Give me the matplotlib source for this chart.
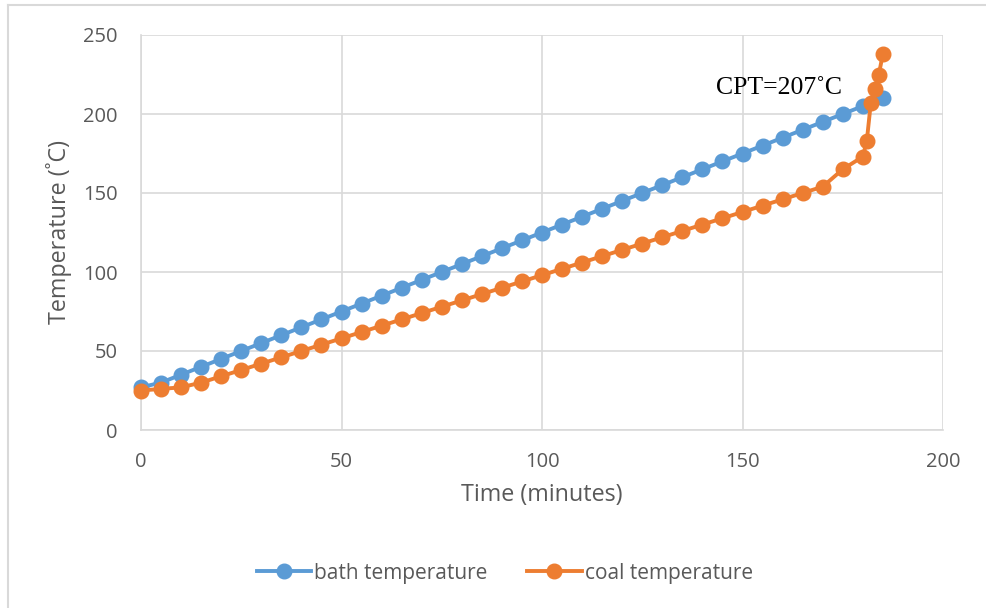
import matplotlib
matplotlib.use("Agg")
import matplotlib.pyplot as plt
from matplotlib.lines import Line2D

# ---- data ----
bath_time = list(range(0, 186, 5))
bath_temp = [27, 30, 35, 40, 45, 50, 55, 60, 65, 70, 75, 80, 85, 90, 95, 100,
             105, 110, 115, 120, 125, 130, 135, 140, 145, 150, 155, 160, 165,
             170, 175, 180, 185, 190, 195, 200, 205, 210]

coal_time = list(range(0, 181, 5)) + [181, 182, 183, 184, 185]
coal_temp = [25, 26, 27, 30, 34, 38, 42, 46, 50, 54, 58, 62, 66, 70, 74, 78,
             82, 86, 90, 94, 98, 102, 106, 110, 114, 118, 122, 126, 130, 134,
             138, 142, 146, 150, 154, 165, 173, 183, 207, 216, 225, 238]

x_ticks = [0, 50, 100, 150, 200]
y_ticks = [0, 50, 100, 150, 200, 250]

BLUE = "#5B9BD5"
ORANGE = "#ED7D31"
GRID = "#D9D9D9"
TXT = "#595959"
FONT = "Open Sans"

fig = plt.figure(figsize=(9.87, 6.08), dpi=100)
fig.patch.set_facecolor("white")

# chart border (top and left visible)
fig.add_artist(Line2D([8/987, 1.0], [1 - 5/608, 1 - 5/608], color=GRID, lw=1.5,
                      transform=fig.transFigure))
fig.add_artist(Line2D([8/987, 8/987], [0.0, 1 - 5/608], color=GRID, lw=1.5,
                      transform=fig.transFigure))

ax = fig.add_axes([141/987, 1 - 430/608, (943 - 141)/987, (430 - 35)/608])

ax.plot(bath_time, bath_temp, color=BLUE, lw=2.8, marker="o", ms=10.5,
        clip_on=False, zorder=3, label="bath temperature")
ax.plot(coal_time, coal_temp, color=ORANGE, lw=2.8, marker="o", ms=10.5,
        clip_on=False, zorder=4, label="coal temperature")

ax.set_xlim(0, 200)
ax.set_ylim(0, 250)
ax.set_xticks(x_ticks)
ax.set_yticks(y_ticks)
ax.grid(True, color=GRID, lw=1.2)
ax.set_axisbelow(True)
for s in ["top", "right"]:
    ax.spines[s].set_visible(False)
for s in ["left", "bottom"]:
    ax.spines[s].set_color(GRID)
    ax.spines[s].set_linewidth(1.2)
ax.tick_params(length=0, labelsize=14.5, labelcolor=TXT)
ax.tick_params(axis="y", pad=17)
ax.tick_params(axis="x", pad=16)
for lab in ax.get_xticklabels() + ax.get_yticklabels():
    lab.set_fontfamily(FONT)

ax.set_xlabel("Time (minutes)", fontsize=16.8, color=TXT, family=FONT, labelpad=8)
ax.set_ylabel("Temperature (˚C)", fontsize=16.8, color=TXT, family=FONT, labelpad=8)

fig.text(779/987, 1 - 88/608, "CPT=207˚C", fontsize=18.5,
         family="Liberation Serif", color="black", ha="center", va="center")

leg = fig.legend(loc="center", bbox_to_anchor=(505/987, 1 - 573/608),
                 ncol=2, frameon=False, handlelength=2.6,
                 columnspacing=1.9, handletextpad=0.15,
                 prop={"family": FONT, "size": 15})
for t in leg.get_texts():
    t.set_color(TXT)

fig.savefig("out.png", dpi=100, facecolor="white")
